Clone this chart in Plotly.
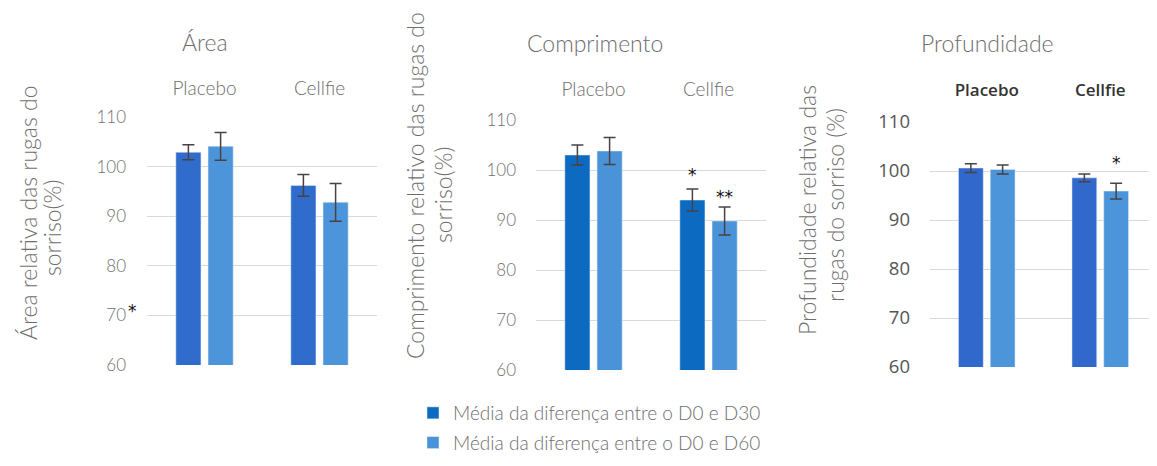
import plotly.graph_objects as go

# The page places the figure 8px from the top-left corner of the window.
OFF = 8
W, H = 1157 - OFF, 466 - OFF

groups = ["Placebo", "Cellfie"]
series_names = ["Média da diferença entre o D0 e D30", "Média da diferença entre o D0 e D60"]

area_d30 = [102.9, 96.2]
area_d30_err = [1.5, 2.2]
area_d60 = [104.1, 92.8]
area_d60_err = [2.8, 3.8]

comp_d30 = [103.0, 94.0]
comp_d30_err = [2.0, 2.2]
comp_d60 = [103.8, 89.8]
comp_d60_err = [2.7, 2.8]

prof_d30 = [100.6, 98.6]
prof_d30_err = [0.9, 0.8]
prof_d60 = [100.3, 95.9]
prof_d60_err = [0.9, 1.6]

titles = ["Área", "Comprimento", "Profundidade"]
ytitle_lines = [["Área relativa das rugas do", "sorriso(%)"],
                ["Comprimento relativo das rugas do", "sorriso(%)"],
                ["Profundidade relativa das", "rugas do sorriso (%)"]]
yticks = [60, 70, 80, 90, 100, 110]


def px(x):
    return min(max((x - OFF) / W, 0.0), 1.0)


def py(y):
    return min(max(1 - (y - OFF) / H, 0.0), 1.0)


LIGHT = dict(family="Lato, 'Open Sans', sans-serif", color="#6e6e6e", weight=300)
SEGOE = dict(family="'Open Sans', 'Noto Sans', sans-serif", color="#555555")

panels = [
    dict(d30=area_d30, e30=area_d30_err, d60=area_d60, e60=area_d60_err,
         c30="#2F6CCC", c60="#4C95DA", xdom=[px(147), px(377)], ydom=[py(365), py(117)],
         font=LIGHT, tickfont_size=17, title_xy=(205, 42), xstand=17, ystand=20,
         yt=[(28, 213), (52, 228)]),
    dict(d30=comp_d30, e30=comp_d30_err, d60=comp_d60, e60=comp_d60_err,
         c30="#0C6BC1", c60="#4A93D8", xdom=[px(536), px(766)], ydom=[py(370), py(120)],
         font=LIGHT, tickfont_size=17, title_xy=(595, 43), xstand=19, ystand=19,
         yt=[(415, 185), (443, 195)]),
    dict(d30=prof_d30, e30=prof_d30_err, d60=prof_d60, e60=prof_d60_err,
         c30="#3068CC", c60="#4C95DA", xdom=[px(930), px(1157)], ydom=[py(367), py(122)],
         font=SEGOE, tickfont_size=18.5, title_xy=(987, 43), xstand=22, ystand=19,
         yt=[(807, 210), (835, 205)]),
]

fig = go.Figure()
annotations = []
layout = {}

for i, p in enumerate(panels):
    n = "" if i == 0 else str(i + 1)
    xa, ya = "x" + n, "y" + n
    err_style = dict(type="data", visible=True, color="#4a4242", thickness=1.5, width=6)
    fig.add_trace(go.Bar(
        x=groups, y=p["d30"], name=series_names[0], marker_color=p["c30"],
        error_y=dict(array=p["e30"], **err_style), xaxis=xa, yaxis=ya,
        showlegend=(i == 1), legendgroup="g30"))
    fig.add_trace(go.Bar(
        x=groups, y=p["d60"], name=series_names[1], marker_color=p["c60"],
        error_y=dict(array=p["e60"], **err_style), xaxis=xa, yaxis=ya,
        showlegend=(i == 1), legendgroup="g60"))
    if i == 2:
        catfont = dict(size=17, family="'Open Sans', 'Noto Sans', sans-serif", color="#333333", weight=600)
    else:
        catfont = dict(size=19, **LIGHT)
    layout["xaxis" + n] = dict(
        domain=p["xdom"], anchor=ya, side="top", showgrid=False, zeroline=False,
        showline=False, ticks="", tickfont=catfont, ticklabelstandoff=p["xstand"],
        automargin=False, fixedrange=True)
    layout["yaxis" + n] = dict(
        domain=p["ydom"], anchor=xa, range=[60, 110], tickvals=yticks,
        showgrid=True, gridcolor="#d9d9d9", gridwidth=1, zeroline=False, showline=False,
        ticks="", tickfont=dict(size=p["tickfont_size"], **p["font"]),
        ticklabelstandoff=p["ystand"], automargin=False, fixedrange=True)
    tx, ty = p["title_xy"]
    annotations.append(dict(text=titles[i], x=px(tx), y=py(ty), xref="paper", yref="paper",
                            xanchor="center", yanchor="middle",
                            showarrow=False, font=dict(size=23, **LIGHT)))
    for line, (lx, ly) in zip(ytitle_lines[i], p["yt"]):
        annotations.append(dict(text=line, x=px(lx), y=py(ly), xref="paper", yref="paper",
                                xanchor="center", yanchor="middle",
                                textangle=-90, showarrow=False,
                                font=dict(size=23, **LIGHT)))

# significance marks
star_font = dict(size=17, color="#111111", family="'DejaVu Sans', sans-serif")
annotations.append(dict(text="*", x="Cellfie", y=comp_d30[1] + comp_d30_err[1], xref="x2", yref="y2",
                        xshift=-16, yshift=14, showarrow=False, font=star_font))
annotations.append(dict(text="**", x="Cellfie", y=comp_d60[1] + comp_d60_err[1], xref="x2", yref="y2",
                        xshift=16, yshift=10, showarrow=False, font=star_font))
annotations.append(dict(text="*", x="Cellfie", y=prof_d60[1] + prof_d60_err[1], xref="x3", yref="y3",
                        xshift=16, yshift=20, showarrow=False, font=star_font))
annotations.append(dict(text="*", x=px(132), y=py(311), xref="paper", yref="paper",
                        xanchor="center", yanchor="middle",
                        showarrow=False, font=star_font))

fig.update_layout(
    width=W, height=H, margin=dict(l=0, r=0, t=0, b=0, pad=0, autoexpand=False),
    paper_bgcolor="white", plot_bgcolor="white",
    barmode="group", bargap=0.44, bargroupgap=0.22,
    showlegend=True,
    legend=dict(x=px(413), y=py(394), xanchor="left", yanchor="top",
                orientation="v", tracegroupgap=2, itemwidth=30,
                font=dict(size=19, **LIGHT), bgcolor="rgba(0,0,0,0)"),
    annotations=annotations,
    **layout,
)

fig.write_html("out.html")
